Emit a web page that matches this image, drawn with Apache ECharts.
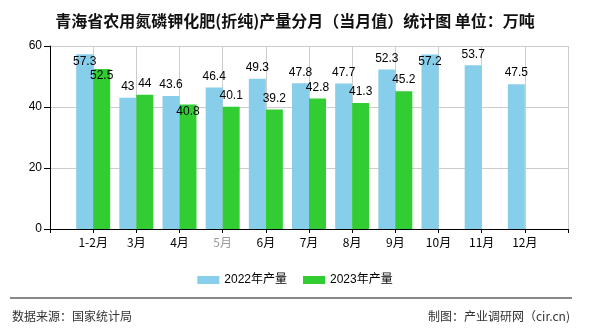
<!DOCTYPE html>
<html><head><meta charset="utf-8">
<script src="https://cdn.jsdelivr.net/npm/echarts@6/dist/echarts.min.js"></script>
<style>html,body{margin:0;padding:0;background:#fff}#c{width:590px;height:330px}</style>
</head><body><div id="c"></div>
<script>
var months = ['1-2月','3月','4月','5月','6月','7月','8月','9月','10月','11月','12月'];
var prod2022 = [57.3, 43, 43.6, 46.4, 49.3, 47.8, 47.7, 52.3, 57.2, 53.7, 47.5];
var prod2023 = [52.5, 44, 40.8, 40.1, 39.2, 42.8, 41.3, 45.2, null, null, null];
var yTicks = [0, 20, 40, 60];
var seriesNames = ['2022年产量', '2023年产量'];

var fontNum = "'Liberation Sans','Noto Sans CJK SC',sans-serif";
var fontCJK = "'Noto Sans CJK SC','Liberation Sans',sans-serif";

// labels drawn inside the bar top (overlap avoidance in reference)
var inside2022 = {'1-2月': true, '10月': true};
var inside2023 = {'1-2月': true, '4月': true};

function buildData(vals, insideMap) {
  var out = [null];
  vals.forEach(function (v, i) {
    if (v == null) { out.push(null); return; }
    var inside = insideMap[months[i]];
    out.push({value: v, label: {position: inside ? 'insideTop' : 'top', distance: inside ? 1 : 5}});
  });
  out.push(null);
  return out;
}
var cats = [''].concat(months.map(function (m) {
  return m === '5月' ? {value: m, textStyle: {color: '#999'}} : m;
})).concat(['']);

var chart = echarts.init(document.getElementById('c'));
chart.setOption({
  animation: false,
  title: {
    text: '青海省农用氮磷钾化肥(折纯)产量分月（当月值）统计图 单位：万吨',
    left: 'center', top: 8,
    textStyle: {fontSize: 16, fontWeight: 'bold', color: '#111', fontFamily: fontCJK}
  },
  legend: {
    data: seriesNames, left: 'center', top: 269, itemWidth: 22, itemHeight: 8, itemGap: 16,
    icon: 'rect', textStyle: {fontSize: 12, color: '#000', fontFamily: fontNum}
  },
  grid: {left: 50, right: 22, top: 46, bottom: 101},
  xAxis: {
    type: 'category', data: cats, boundaryGap: false,
    axisLine: {lineStyle: {color: '#000', width: 1}},
    axisTick: {show: true, length: 4, lineStyle: {color: '#000'}},
    axisLabel: {interval: 0, margin: 7, fontSize: 12, color: '#000', fontFamily: fontCJK},
    splitLine: {show: true, lineStyle: {color: '#ccc'}}
  },
  yAxis: {
    type: 'value', min: yTicks[0], max: yTicks[yTicks.length - 1], interval: 20,
    axisLine: {show: true, lineStyle: {color: '#000'}},
    axisTick: {show: true, length: 6, lineStyle: {color: '#000'}},
    axisLabel: {fontSize: 12, color: '#000', margin: 8, fontFamily: fontNum},
    splitLine: {lineStyle: {color: '#ccc'}}
  },
  series: [
    {name: seriesNames[0], type: 'bar', barWidth: 17, barGap: '0%', itemStyle: {color: '#87CEEB'},
     label: {show: true, fontSize: 12, color: '#000', fontFamily: fontNum},
     data: buildData(prod2022, inside2022)},
    {name: seriesNames[1], type: 'bar', barWidth: 17, barGap: '0%', itemStyle: {color: '#32CD32'},
     label: {show: true, fontSize: 12, color: '#000', fontFamily: fontNum},
     data: buildData(prod2023, inside2023)}
  ],
  graphic: [
    {type: 'line', shape: {x1: 10, y1: 298, x2: 572, y2: 298}, style: {stroke: '#888', lineWidth: 2}},
    {type: 'text', left: 12, top: 310, style: {text: '数据来源：国家统计局', fontSize: 12, fill: '#333', fontFamily: fontCJK}},
    {type: 'text', right: 20, top: 310, style: {text: '制图：产业调研网（cir.cn)', fontSize: 12, fill: '#333', fontFamily: fontCJK}}
  ]
});
</script></body></html>
